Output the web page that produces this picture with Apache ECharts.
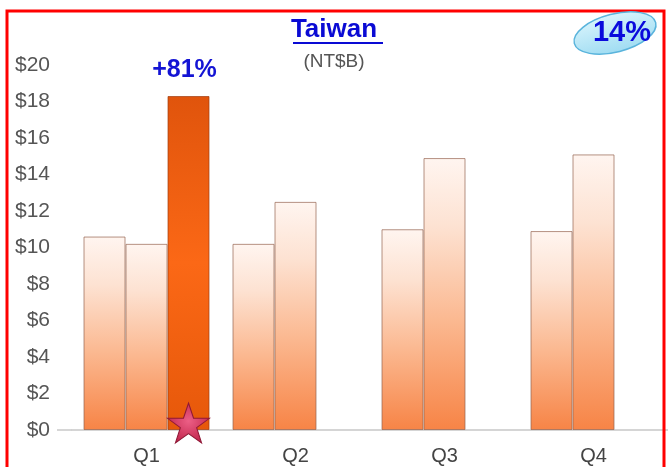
<!DOCTYPE html>
<html>
<head>
<meta charset="utf-8">
<script src="https://cdn.jsdelivr.net/npm/echarts@6/dist/echarts.min.js"></script>
<style>
html,body{margin:0;padding:0;background:#fff;}
#chart{width:668px;height:467px;}
</style>
</head>
<body>
<div id="chart"></div>
<script>
const categories = ['Q1', 'Q2', 'Q3', 'Q4'];
const seriesA = [10.6, 10.2, 11.0, 10.9];
const seriesB = [10.2, 12.5, 14.9, 15.1];
const seriesC = [18.3, null, null, null];
const growthLabel = '+81%';
const badgeText = '14%';
const yTicks = [0, 2, 4, 6, 8, 10, 12, 14, 16, 18, 20];

const FONT = 'Liberation Sans, Arial, sans-serif';
const chart = echarts.init(document.getElementById('chart'), null, {renderer: 'canvas'});

const lightGrad = new echarts.graphic.LinearGradient(0, 0, 0, 1, [
  {offset: 0, color: '#fff5f0'},
  {offset: 0.25, color: '#fde2d2'},
  {offset: 0.6, color: '#fbb890'},
  {offset: 1, color: '#f78446'}
]);
const darkGrad = new echarts.graphic.LinearGradient(0, 0, 0, 1, [
  {offset: 0, color: '#e0540c'},
  {offset: 0.5, color: '#fb6816'},
  {offset: 1, color: '#e6580a'}
]);

const starPath = 'path://M50,0 L61.8,35.5 L99,35.5 L69,57.5 L80.5,93 L50,71 L19.5,93 L31,57.5 L1,35.5 L38.2,35.5 Z';

const option = {
  animation: false,
  backgroundColor: '#ffffff',
  title: [{
    text: 'Taiwan',
    left: 'center',
    top: 12,
    textStyle: {color: '#0a0ad4', fontSize: 26, fontWeight: 'bold', fontFamily: FONT}
  }, {
    text: '(NT$B)',
    left: 'center',
    top: 47,
    textStyle: {color: '#555555', fontSize: 19, fontWeight: 'normal', fontFamily: FONT}
  }],
  grid: {left: 72, right: 0, top: 65, bottom: 37, containLabel: false},
  xAxis: {
    type: 'category',
    data: categories,
    axisLine: {show: true, lineStyle: {color: '#c8c8c8', width: 1.5}},
    axisTick: {show: false},
    axisLabel: {color: '#444444', fontSize: 20, margin: 16, fontFamily: FONT}
  },
  yAxis: {
    type: 'value',
    min: yTicks[0],
    max: yTicks[yTicks.length - 1],
    interval: 2,
    axisLine: {show: false},
    axisTick: {show: false},
    splitLine: {show: false},
    axisLabel: {color: '#555555', fontSize: 21, margin: 22, formatter: v => '$' + v, fontFamily: FONT}
  },
  series: [{
    type: 'bar',
    data: seriesA,
    barWidth: 42,
    barGap: '0%',
    itemStyle: {color: lightGrad, borderColor: 'rgba(150,100,80,0.7)', borderWidth: 1}
  }, {
    type: 'bar',
    data: seriesB,
    barWidth: 42,
    barGap: '0%',
    itemStyle: {color: lightGrad, borderColor: 'rgba(150,100,80,0.7)', borderWidth: 1}
  }, {
    type: 'bar',
    data: seriesC,
    barWidth: 42,
    barGap: '0%',
    itemStyle: {color: darkGrad, borderColor: 'rgba(160,60,15,0.7)', borderWidth: 1},
    label: {
      show: true,
      position: 'top',
      distance: 13,
      offset: [-4, 0],
      formatter: growthLabel,
      color: '#1414d4',
      fontSize: 25,
      fontWeight: 'bold',
      fontFamily: FONT
    },
    markPoint: {
      symbol: starPath,
      symbolSize: [42, 40],
      symbolOffset: [0, -7],
      label: {show: false},
      itemStyle: {
        color: new echarts.graphic.RadialGradient(0.5, 0.45, 0.6, [
          {offset: 0, color: '#ec5f86'},
          {offset: 1, color: '#be2148'}
        ]),
        borderColor: '#8e1836',
        borderWidth: 1
      },
      data: [{coord: [categories[0], 0]}]
    }
  }],
  graphic: [{
    type: 'rect',
    shape: {x: 7, y: 11, width: 657, height: 480},
    style: {fill: null, stroke: '#ff0000', lineWidth: 3},
    z: 100
  }, {
    type: 'line',
    shape: {x1: 293, y1: 43, x2: 383, y2: 43},
    style: {stroke: '#0a0ad4', lineWidth: 2},
    z: 100
  }, {
    type: 'line',
    shape: {x1: 57, y1: 430, x2: 72, y2: 430},
    style: {stroke: '#c8c8c8', lineWidth: 1.5},
    z: 1
  }, {
    type: 'ellipse',
    shape: {cx: 0, cy: 0, rx: 42, ry: 19},
    x: 615, y: 33,
    rotation: 0.25,
    style: {
      fill: new echarts.graphic.LinearGradient(0, 0, 0, 1, [
        {offset: 0, color: '#d8f4fc'},
        {offset: 1, color: '#9fdcf2'}
      ]),
      stroke: '#5ab4dc', lineWidth: 1.5
    },
    z: 110
  }, {
    type: 'text',
    x: 622, y: 33,
    style: {
      text: badgeText,
      fill: '#0a0adc',
      font: 'bold 29px "Liberation Sans", Arial, sans-serif',
      align: 'center',
      verticalAlign: 'middle'
    },
    z: 120
  }]
};
chart.setOption(option);
</script>
</body>
</html>
